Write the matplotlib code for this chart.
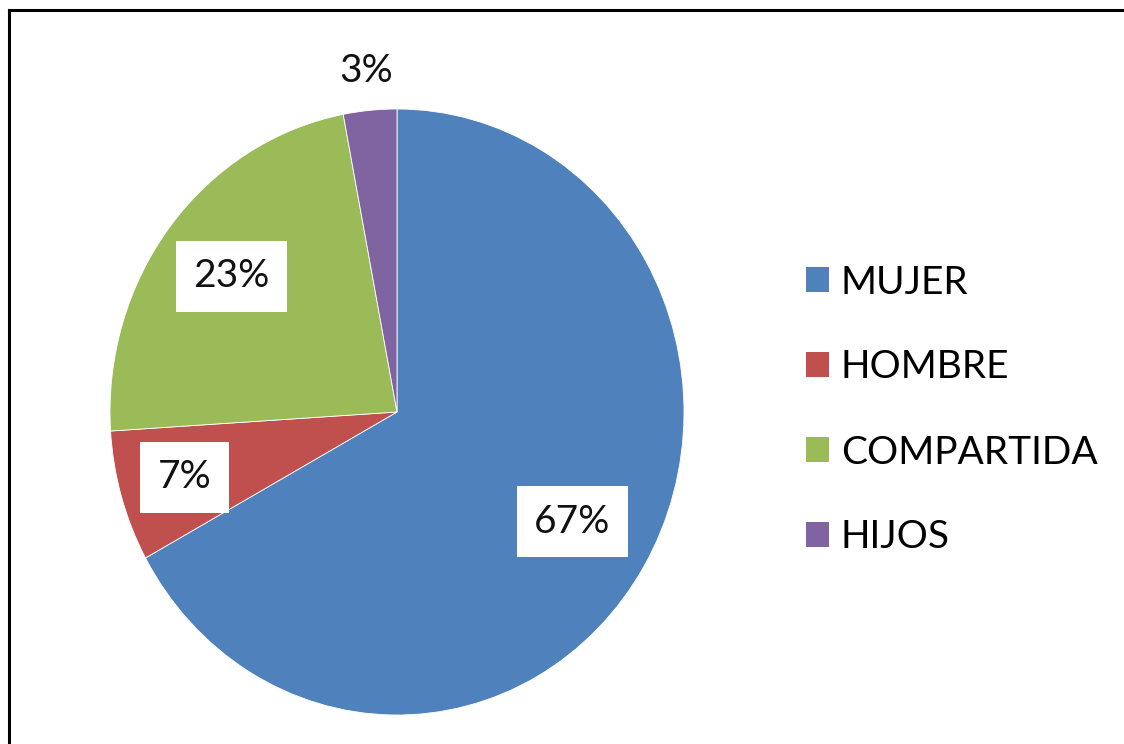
import matplotlib.pyplot as plt
from matplotlib.patches import Patch
from matplotlib.lines import Line2D
import numpy as np

plt.rcParams['font.family'] = ['Lato', 'DejaVu Sans']

categories = ["MUJER", "HOMBRE", "COMPARTIDA", "HIJOS"]
values = [67, 7, 23, 3]
colors = ["#4F81BD", "#C0504D", "#9BBB59", "#8064A2"]
# radial position of each percentage label (fraction of radius)
label_dist = [0.71, 0.77, 0.73, 1.13]

W, H = 1124, 744
fig = plt.figure(figsize=(W / 100, H / 100), dpi=100)

# pie is slightly squashed horizontally in the original
cx, cy, rx, ry = 397, 412, 287, 303
ax = fig.add_axes([(cx - rx) / W, (H - cy - ry) / H, 2 * rx / W, 2 * ry / H])
wedges, _ = ax.pie(values, colors=colors, startangle=90, counterclock=False,
                   wedgeprops=dict(edgecolor="white", linewidth=0.6))
ax.set_aspect("auto")
ax.set_xlim(-1, 1)
ax.set_ylim(-1, 1)
ax.axis("off")

for w, v, d in zip(wedges, values, label_dist):
    ang = np.deg2rad((w.theta1 + w.theta2) / 2)
    x, y = d * np.cos(ang), d * np.sin(ang)
    box = dict(boxstyle="square,pad=0.45", fc="white", ec="none") if d < 1 else None
    ax.text(x, y, f"{v}%", ha="center", va="center", fontsize=28, color="#111111",
            bbox=box, clip_on=False)

handles = [Patch(facecolor=c, edgecolor="none") for c in colors]
fig.legend(handles, categories, loc="center left",
           bbox_to_anchor=(806 / W, (H - 410) / H), frameon=False,
           fontsize=28, handlelength=0.6, handleheight=0.6,
           handletextpad=0.3, labelspacing=1.26, borderpad=0, borderaxespad=0)

# outer frame: only the top and left edges show in the original crop
x0, y0 = 9 / W, 1 - 10 / H
fig.add_artist(Line2D([x0, x0], [0, y0], transform=fig.transFigure,
                      color="black", linewidth=2.2, solid_capstyle="projecting"))
fig.add_artist(Line2D([x0, 1], [y0, y0], transform=fig.transFigure,
                      color="black", linewidth=2.2, solid_capstyle="projecting"))

fig.savefig("out.png", dpi=100)
